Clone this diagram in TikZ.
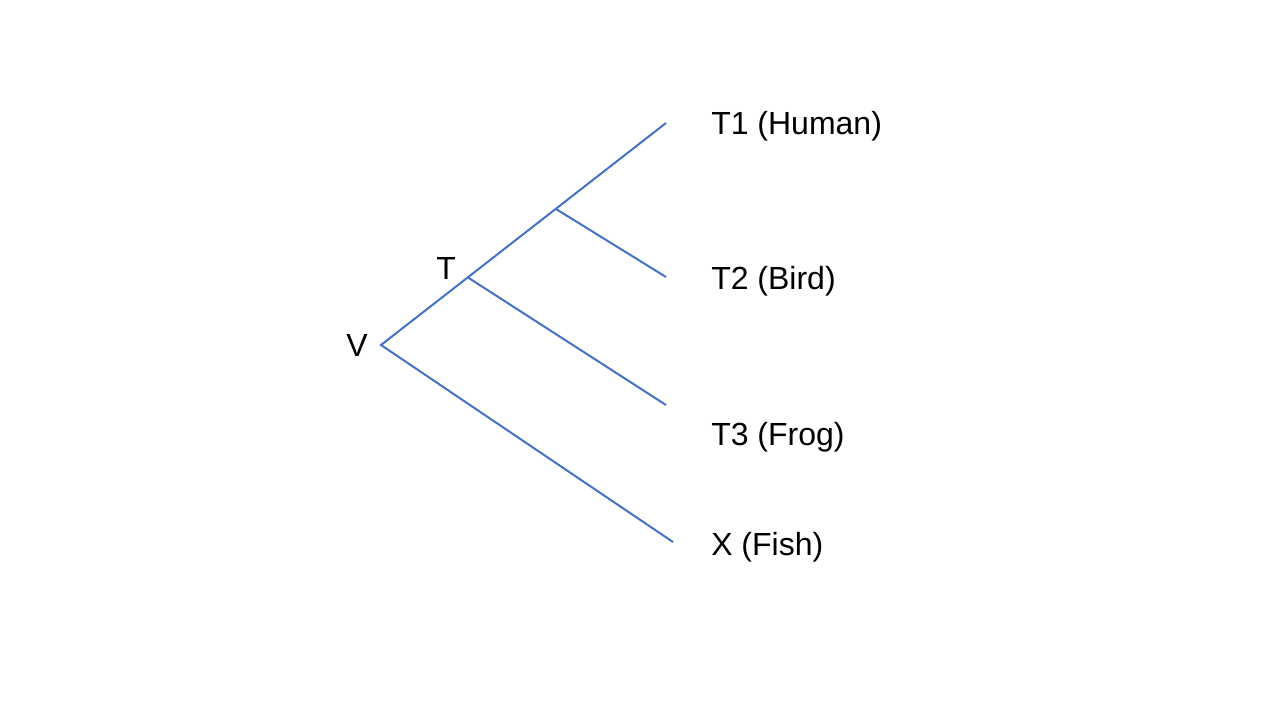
\documentclass[tikz,border=0pt]{standalone}
\usepackage{fontspec}
\setmainfont{Liberation Sans}
\definecolor{treeblue}{HTML}{4472C4}
\begin{document}
\begin{tikzpicture}[x=0.75pt,y=-0.75pt,
  branch/.style={draw=treeblue,line width=1.5pt},
  lab/.style={anchor=base west,inner sep=0pt,font=\fontsize{24}{29}\selectfont}]
\useasboundingbox[fill=white] (0,0) rectangle (1280,720);
\coordinate (v) at (381,345);
\coordinate (t) at (468,277.5);
\coordinate (u) at (556,209);
\coordinate (e1) at (666,123);
\coordinate (e2) at (666,277);
\coordinate (e3) at (666,405);
\coordinate (e4) at (673,542);
\draw[branch] (e1) -- (v) -- (e4);
\draw[branch] (t) -- (e3);
\draw[branch] (u) -- (e2);
\node[lab] (l1) at (711,134.5) {T1 (Human)};
\node[lab] (l2) at (711,289.5) {T2 (Bird)};
\node[lab] (l3) at (711,445.5) {T3 (Frog)};
\node[lab] (l4) at (711,555.5) {X (Fish)};
\node[lab] (lt) at (436,279.5) {T};
\node[lab] (lv) at (346,356.5) {V};
\end{tikzpicture}
\end{document}
